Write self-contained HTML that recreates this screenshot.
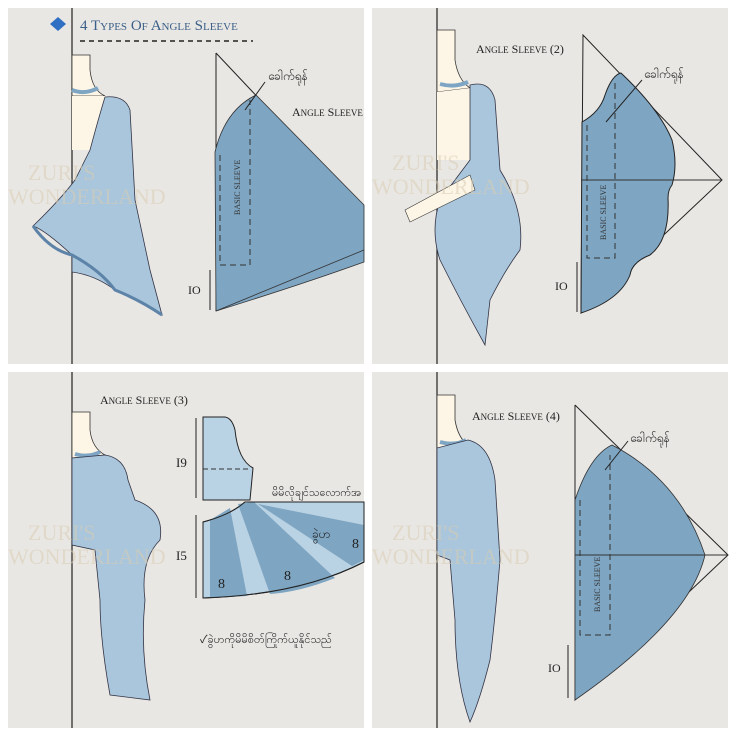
<!DOCTYPE html>
<html><head><meta charset="utf-8"><style>
html,body{margin:0;padding:0;background:#fff;}
svg{display:block;}
text{font-family:"Liberation Serif",serif;}
.my{font-family:"Liberation Sans","Noto Sans CJK SC",sans-serif;}
</style></head><body>
<svg width="736" height="736" viewBox="0 0 736 736" xmlns="http://www.w3.org/2000/svg">
<rect width="736" height="736" fill="#fff"/>
<rect x="8" y="8" width="356" height="356" fill="#e9e7e4"/>
<rect x="372" y="8" width="356" height="356" fill="#e9e7e4"/>
<rect x="8" y="372" width="356" height="356" fill="#e9e7e4"/>
<rect x="372" y="372" width="356" height="356" fill="#e9e7e4"/>

<!-- Panel 1 -->
<line x1="72" y1="8" x2="72" y2="364" stroke="#222" stroke-width="1.2"/>
<path d="M50 24 L58 17 L66 24 L58 31Z" fill="#2f6fc4"/>
<text x="80" y="30" font-size="15" fill="#3a5f88">4 T<tspan font-size="11">YPES</tspan> O<tspan font-size="11">F</tspan> A<tspan font-size="11">NGLE</tspan> S<tspan font-size="11">LEEVE</tspan></text>
<line x1="80" y1="41" x2="253" y2="41" stroke="#222" stroke-width="1.5" stroke-dasharray="5,4"/>
<path d="M72 55 L90 55 L90 70 Q92 90 105 96 L72 96Z" fill="#fdf6e6" stroke="#333" stroke-width="0.8"/>
<path d="M72 96 L105 96 L100 150 L72 150Z" fill="#fdf6e6"/>
<path d="M72 90 Q85 95 98 88" stroke="#7ea6c4" stroke-width="4" fill="none"/>
<path d="M105 97 Q125 95 130 110 L135 200 L150 270 L162 315 Q140 300 115 290 Q95 275 72 272 L72 255 Q45 230 33 226 Q60 200 75 180 L90 150 Q98 120 105 97Z" fill="#a9c6dc" stroke="#334" stroke-width="0.8"/>
<path d="M33 226 Q50 250 72 255 Q100 270 115 290 Q140 300 162 315" fill="none" stroke="#5d84a8" stroke-width="3"/>
<path d="M216 53 L216 311" stroke="#222" stroke-width="1"/>
<path d="M216 53 L364 210" stroke="#222" stroke-width="1"/>
<path d="M215 152 Q225 110 256 95 L364 205 L364 262 Q300 285 216 311Z" fill="#7ea5c2" stroke="#333" stroke-width="0.8"/>
<path d="M216 311 L364 250" stroke="#333" stroke-width="0.8"/>
<path d="M220 155 L220 265 L250 265 L250 100" fill="none" stroke="#333" stroke-dasharray="6,4"/>
<text x="0" y="0" font-size="8" fill="#333" transform="translate(240,215) rotate(-90)">BASIC SLEEVE</text>
<text x="292" y="116" font-size="12" fill="#222">A<tspan font-size="9">NGLE</tspan> S<tspan font-size="9">LEEVE</tspan></text>
<text x="268" y="80" font-size="12" class="my" fill="#222">ခေါက်ရုန်</text>
<line x1="265" y1="82" x2="245" y2="110" stroke="#222"/>
<line x1="210" y1="270" x2="210" y2="310" stroke="#222"/>
<text x="188" y="294" font-size="12" fill="#222">IO</text>
<text x="28" y="180" font-size="22" fill="#d9ccb2" opacity="0.55">ZURI'S</text>
<text x="8" y="204" font-size="22" fill="#d9ccb2" opacity="0.55">WONDERLAND</text>

<!-- Panel 2 -->
<line x1="437" y1="8" x2="437" y2="364" stroke="#222" stroke-width="1.2"/>
<path d="M437 30 L455 30 L455 60 Q458 80 470 88 L437 92Z" fill="#fdf6e6" stroke="#333" stroke-width="0.8"/>
<path d="M437 92 L470 88 L470 160 L437 160Z" fill="#fdf6e6"/>
<path d="M440 84 Q455 88 468 82" stroke="#7ea6c4" stroke-width="4" fill="none"/>
<path d="M470 85 Q490 80 495 100 L500 170 Q525 210 520 250 Q505 270 490 300 L485 345 Q460 300 440 260 Q430 230 440 200 L470 160Z" fill="#a9c6dc" stroke="#334" stroke-width="0.8"/>
<path d="M405 210 L470 175 L475 190 L410 222Z" fill="#fdf6e6" stroke="#333" stroke-width="0.6"/>
<text x="476" y="53" font-size="12" fill="#222">A<tspan font-size="9">NGLE</tspan> S<tspan font-size="9">LEEVE</tspan> (2)</text>
<path d="M583 35 L581 313 L722 180Z" fill="none" stroke="#222" stroke-width="1"/>
<path d="M582 122 Q600 112 605 95 Q612 75 621 73 Q660 110 672 140 Q678 165 672 185 Q668 190 668 198 Q670 240 650 255 Q632 262 630 275 Q620 300 581 313Z" fill="#7ea5c2" stroke="#222" stroke-width="1"/>
<line x1="581" y1="180" x2="722" y2="180" stroke="#333"/>
<path d="M587 125 L587 258 L615 258 L615 80" fill="none" stroke="#333" stroke-dasharray="6,4"/>
<text x="0" y="0" font-size="8" fill="#333" transform="translate(606,240) rotate(-90)">BASIC SLEEVE</text>
<text x="644" y="78" font-size="12" class="my" fill="#222">ခေါက်ရုန်</text>
<line x1="642" y1="80" x2="606" y2="122" stroke="#222"/>
<line x1="577" y1="262" x2="577" y2="312" stroke="#222"/>
<text x="555" y="290" font-size="12" fill="#222">IO</text>
<text x="392" y="170" font-size="22" fill="#d9ccb2" opacity="0.55">ZURI'S</text>
<text x="372" y="194" font-size="22" fill="#d9ccb2" opacity="0.55">WONDERLAND</text>

<!-- Panel 3 -->
<line x1="72" y1="372" x2="72" y2="728" stroke="#222" stroke-width="1.2"/>
<path d="M72 412 L90 412 L90 430 Q92 448 105 455 L72 458Z" fill="#fdf6e6" stroke="#333" stroke-width="0.8"/>
<path d="M75 454 Q88 458 100 452" stroke="#7ea6c4" stroke-width="4" fill="none"/>
<path d="M105 455 Q125 458 128 480 L135 500 Q165 510 160 540 Q140 560 145 600 Q140 650 150 700 L110 695 Q100 640 100 600 L95 550 L72 545 L72 458Z" fill="#a9c6dc" stroke="#334" stroke-width="0.8"/>
<text x="100" y="404" font-size="12" fill="#222">A<tspan font-size="9">NGLE</tspan> S<tspan font-size="9">LEEVE</tspan> (3)</text>
<path d="M203 417 L225 417 Q232 418 235 430 Q238 460 253 468 L250 500 L203 500Z" fill="#b9d2e4" stroke="#222" stroke-width="1"/>
<line x1="203" y1="469" x2="250" y2="469" stroke="#333" stroke-dasharray="5,3"/>
<line x1="196" y1="418" x2="196" y2="498" stroke="#222"/>
<text x="176" y="467" font-size="13" fill="#222">I9</text>
<!-- fan -->
<path d="M203 522 Q230 515 245 502 L364 502 L364 562 Q300 595 203 598Z" fill="#b9d2e4" stroke="#222" stroke-width="1"/>
<path d="M210 520 L230 508 L247 596 L210 598Z" fill="#7ea5c2"/>
<path d="M238 504 L254 502 L335 578 Q300 592 270 594Z" fill="#7ea5c2"/>
<path d="M258 504 L364 525 L364 560 L352 566Z" fill="#7ea5c2"/>
<path d="M203 522 Q230 515 245 502 L364 502 L364 562 Q300 595 203 598Z" fill="none" stroke="#222" stroke-width="1"/>
<line x1="196" y1="515" x2="196" y2="598" stroke="#222"/>
<text x="176" y="560" font-size="13" fill="#222">I5</text>
<text x="218" y="588" font-size="14" fill="#222">8</text>
<text x="284" y="580" font-size="14" fill="#222">8</text>
<text x="352" y="548" font-size="14" fill="#222">8</text>
<text x="312" y="538" font-size="12" class="my" fill="#222">ခွဲဟ</text>
<text x="272" y="496" font-size="11" class="my" fill="#222">မိမိလိုချင်သလောက်အ</text>
<text x="200" y="643" font-size="11" class="my" fill="#222">✓ခွဲဟကိုမိမိစိတ်ကြိုက်ယူနိုင်သည်</text>
<text x="28" y="540" font-size="22" fill="#d9ccb2" opacity="0.55">ZURI'S</text>
<text x="8" y="564" font-size="22" fill="#d9ccb2" opacity="0.55">WONDERLAND</text>

<!-- Panel 4 -->
<line x1="437" y1="372" x2="437" y2="728" stroke="#222" stroke-width="1.2"/>
<path d="M437 395 L455 395 L455 420 Q458 438 468 445 L437 448Z" fill="#fdf6e6" stroke="#333" stroke-width="0.8"/>
<path d="M440 442 Q455 446 466 440" stroke="#7ea6c4" stroke-width="4" fill="none"/>
<path d="M468 440 Q490 445 495 480 L500 560 Q495 620 490 660 Q480 700 470 722 Q455 680 455 620 L450 560 L437 555 L437 448Z" fill="#a9c6dc" stroke="#334" stroke-width="0.8"/>
<text x="472" y="420" font-size="12" fill="#222">A<tspan font-size="9">NGLE</tspan> S<tspan font-size="9">LEEVE</tspan> (4)</text>
<path d="M575 405 L575 700 L728 555 L575 405" fill="none" stroke="#222" stroke-width="1"/>
<path d="M575 500 Q590 455 612 445 Q680 480 705 555 Q690 620 575 700Z" fill="#7ea5c2" stroke="#333" stroke-width="0.8"/>
<line x1="575" y1="555" x2="728" y2="555" stroke="#333"/>
<path d="M580 500 L580 635 L610 635 L610 455" fill="none" stroke="#333" stroke-dasharray="6,4"/>
<text x="0" y="0" font-size="8" fill="#333" transform="translate(600,612) rotate(-90)">BASIC SLEEVE</text>
<text x="630" y="442" font-size="12" class="my" fill="#222">ခေါက်ရုန်</text>
<line x1="628" y1="441" x2="605" y2="470" stroke="#222"/>
<line x1="568" y1="645" x2="568" y2="698" stroke="#222"/>
<text x="548" y="672" font-size="12" fill="#222">IO</text>
<text x="392" y="540" font-size="22" fill="#d9ccb2" opacity="0.55">ZURI'S</text>
<text x="372" y="564" font-size="22" fill="#d9ccb2" opacity="0.55">WONDERLAND</text>
</svg>
</body></html>
